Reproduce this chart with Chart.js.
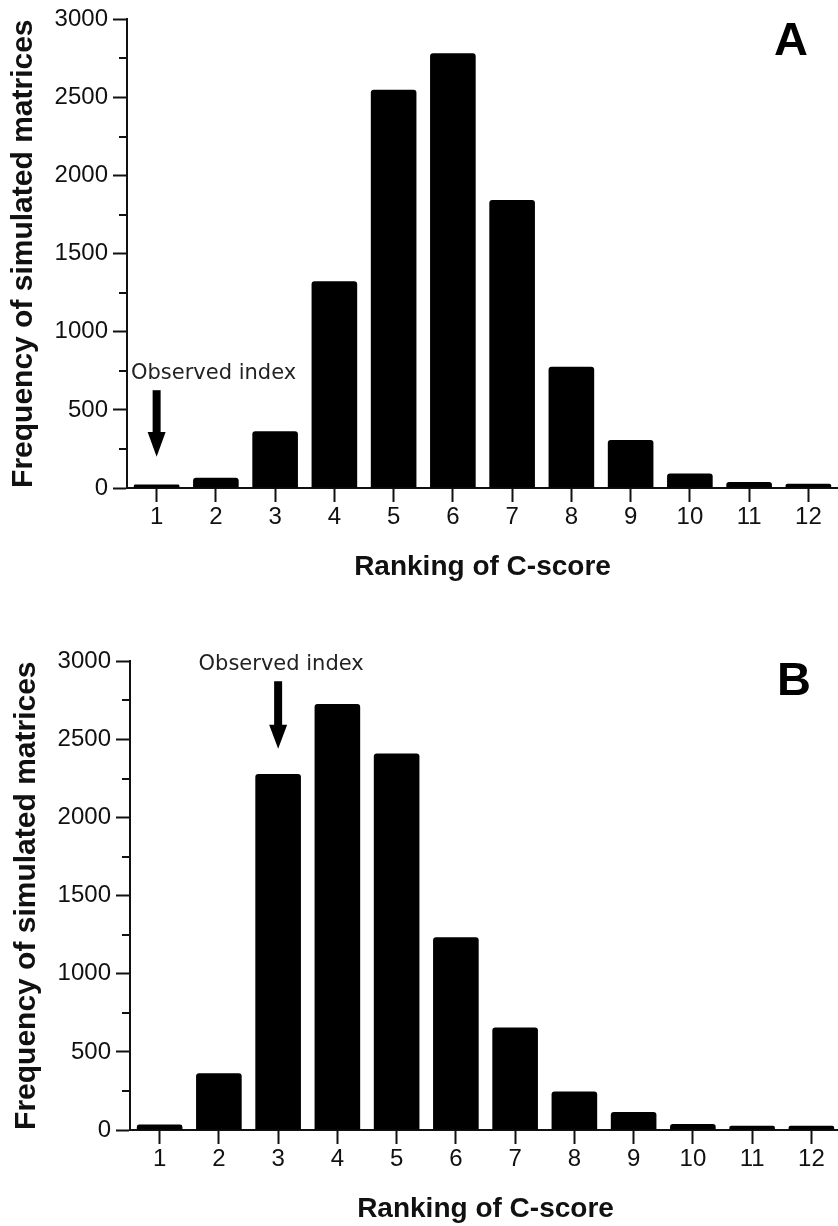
<!DOCTYPE html>
<html>
<head>
<meta charset="utf-8">
<script src="https://cdn.jsdelivr.net/npm/chart.js@4.4.1/dist/chart.umd.min.js"></script>
<style>
  html, body { margin: 0; padding: 0; background: #fff; overflow: hidden; width: 838px; height: 1226px; }
  .panel { position: absolute; }
  #wrapA { left: 0; top: 0; }
  #wrapB { left: 3px; top: 642px; }
</style>
</head>
<body>
<div class="panel" id="wrapA"><canvas id="chartA" width="838" height="605"></canvas></div>
<div class="panel" id="wrapB"><canvas id="chartB" width="838" height="605"></canvas></div>
<script>
// Frequency of simulated matrices by C-score ranking (panels A and B)
const rankLabels = ['1', '2', '3', '4', '5', '6', '7', '8', '9', '10', '11', '12'];
const freqA = [22, 65, 364, 1323, 2550, 2784, 1843, 777, 307, 93, 39, 28];
const freqB = [35, 364, 2279, 2727, 2410, 1234, 656, 246, 116, 39, 27, 27];
const yMax = 3000;
const yStep = 500;
const yMinorStep = 250;

// annotations, anchored on a category index and y values
const noteA = { letter: 'A', letterDx: 47, letterDy: 35.3, note: 'Observed index', noteAt: 0, noteValue: 734, noteAlign: 'left',
                arrowAt: 0, arrowTop: 626, arrowHead: 359, arrowTip: 200 };
const noteB = { letter: 'B', letterDx: 47, letterDy: 33.4, note: 'Observed index', noteAt: 2, noteValue: 2981, noteAlign: 'center',
                arrowAt: 2, arrowTop: 2873, arrowHead: 2594, arrowTip: 2441 };

const ink = '#111';
const tickFont = { family: '"Liberation Sans", Arial, sans-serif', size: 24 };

const extras = {
    id: 'extras',
    afterDraw(chart, args, o) {
        const ctx = chart.ctx;
        const x = chart.scales.x, y = chart.scales.y;
        ctx.save();
        // minor y ticks
        ctx.strokeStyle = ink; ctx.lineWidth = 2;
        for (let v = yMinorStep; v < yMax; v += yStep) {
            const py = Math.round(y.getPixelForValue(v));
            ctx.beginPath(); ctx.moveTo(x.left - 8, py); ctx.lineTo(x.left, py); ctx.stroke();
        }
        // arrow
        ctx.fillStyle = '#000';
        const ax = x.getPixelForValue(o.arrowAt);
        const top = y.getPixelForValue(o.arrowTop), head = y.getPixelForValue(o.arrowHead), tip = y.getPixelForValue(o.arrowTip);
        ctx.fillRect(ax - 4, top, 8, head - top + 1);
        ctx.beginPath(); ctx.moveTo(ax - 9, head); ctx.lineTo(ax + 9, head); ctx.lineTo(ax, tip); ctx.closePath(); ctx.fill();
        // note text
        ctx.fillStyle = '#222';
        ctx.font = '21px "DejaVu Sans", Verdana, sans-serif';
        ctx.textBaseline = 'middle';
        ctx.textAlign = o.noteAlign;
        const tx = o.noteAlign === 'left' ? x.left + 4 : x.getPixelForValue(o.noteAt) + 3;
        ctx.fillText(o.note, tx, y.getPixelForValue(o.noteValue));
        // panel letter
        ctx.fillStyle = '#000';
        ctx.font = 'bold 47px "Liberation Sans", Arial, sans-serif';
        ctx.textAlign = 'center'; ctx.textBaseline = 'alphabetic';
        ctx.fillText(o.letter, x.right - o.letterDx, y.top + o.letterDy);
        ctx.restore();
    }
};

function makeChart(id, values, note) {
    return new Chart(document.getElementById(id), {
        type: 'bar',
        data: {
            labels: rankLabels,
            datasets: [{
                data: values,
                backgroundColor: '#000',
                barPercentage: 0.77,
                categoryPercentage: 1,
                borderRadius: 3
            }]
        },
        options: {
            responsive: false,
            animation: false,
            devicePixelRatio: 1,
            layout: { padding: { left: 0, right: 0, top: 18, bottom: 0 } },
            plugins: { legend: { display: false }, tooltip: { enabled: false }, extras: note },
            scales: {
                x: {
                    offset: true,
                    grid: { offset: false, drawOnChartArea: false, drawTicks: true, tickLength: 14, tickWidth: 2, tickColor: ink },
                    border: { display: true, color: ink, width: 2 },
                    ticks: { font: tickFont, color: ink, padding: 1, maxRotation: 0 },
                    title: { display: true, text: 'Ranking of C-score', color: ink,
                             font: { family: '"Liberation Sans", Arial, sans-serif', size: 28, weight: 'bold' },
                             padding: { top: 0, bottom: 21 } },
                    afterFit(s) { s.height = 117; }
                },
                y: {
                    min: 0, max: yMax,
                    grid: { drawOnChartArea: false, drawTicks: true, tickLength: 14, tickWidth: 2, tickColor: ink },
                    border: { display: true, color: ink, width: 2 },
                    ticks: { stepSize: yStep, font: tickFont, color: ink, padding: 5, callback: v => String(v) },
                    title: { display: true, text: 'Frequency of simulated matrices', color: ink,
                             font: { family: '"Liberation Sans", Arial, sans-serif', size: 30, weight: 'bold' },
                             padding: { top: 6, bottom: 0 } },
                    afterFit(s) { s.width = 127; }
                }
            }
        },
        plugins: [extras]
    });
}

makeChart('chartA', freqA, noteA);
makeChart('chartB', freqB, noteB);
</script>
</body>
</html>
